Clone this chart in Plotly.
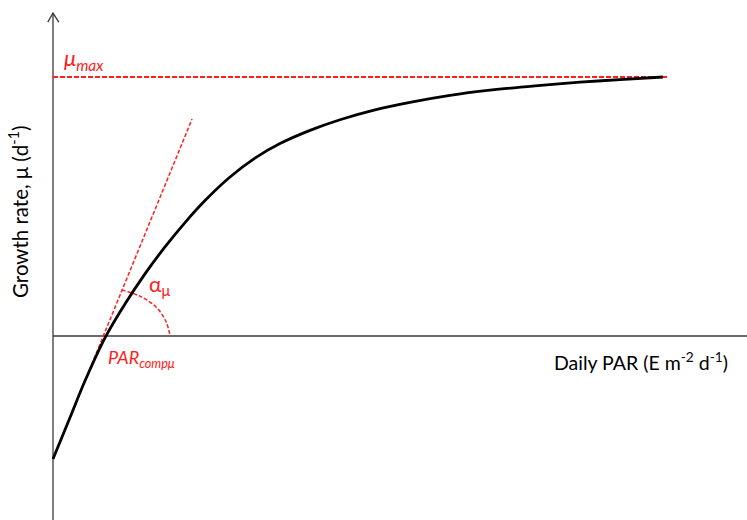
import plotly.graph_objects as go

# Growth-rate response curve (daily PAR vs growth rate)
par = [0.000, 0.279, 0.525, 0.852, 1.180, 1.508, 1.836, 2.164, 2.492, 2.902,
       3.311, 3.721, 4.213, 4.705, 5.279, 5.852, 6.508, 7.164, 7.902, 8.639,
       9.295, 10.000]
mu = [-0.475, -0.315, -0.173, -0.007, 0.124, 0.240, 0.344, 0.438, 0.523, 0.614,
      0.687, 0.743, 0.794, 0.835, 0.873, 0.902, 0.929, 0.949, 0.966, 0.980,
      0.990, 1.000]

# maximum growth rate line
mumax_x = [0.0, 10.08]
mumax_y = [1.0, 1.0]

# initial slope (alpha) tangent line
tan_x = [0.00, 2.28]
tan_y = [-0.475, 0.838]

# angle arc marking alpha
arc_x = [1.12, 1.44, 1.69, 1.85, 1.92]
arc_y = [0.178, 0.152, 0.112, 0.057, 0.000]

X_RANGE = [-0.8689, 11.377]
Y_RANGE = [-0.7104, 1.2973]
Y_TOP = 1.247

RED = "#ff2020"
AXIS = "#3a3a3a"
FONT = "Lato, Carlito, 'Open Sans', sans-serif"

fig = go.Figure()
fig.add_trace(go.Scatter(x=mumax_x, y=mumax_y, mode="lines",
                         line=dict(color=RED, width=1.8, dash="5px,2px"), hoverinfo="skip"))
fig.add_trace(go.Scatter(x=tan_x, y=tan_y, mode="lines",
                         line=dict(color=RED, width=1.5, dash="4px,2px"), hoverinfo="skip"))
fig.add_trace(go.Scatter(x=arc_x, y=arc_y, mode="lines", line_shape="spline",
                         line=dict(color=RED, width=1.5, dash="4px,2px"), hoverinfo="skip"))
fig.add_trace(go.Scatter(x=par, y=mu, mode="lines",
                         line=dict(color="black", width=2.8, shape="spline", smoothing=1.0),
                         hoverinfo="skip"))

shapes = [
    dict(type="line", xref="x", yref="y", x0=0, x1=0, y0=Y_RANGE[0], y1=Y_TOP,
         line=dict(color=AXIS, width=1.3), layer="below"),
    dict(type="line", xref="x", yref="y", x0=0, x1=X_RANGE[1], y0=0, y1=0,
         line=dict(color=AXIS, width=1.3), layer="below"),
    dict(type="path", xref="x", yref="y",
         path=f"M -0.085 1.212 L 0 {Y_TOP} L 0.095 1.212",
         line=dict(color=AXIS, width=1.3)),
]

annotations = [
    dict(x=0.148, y=1.069, xref="x", yref="y", xanchor="left", yanchor="middle",
         text="<i>μ<sub>max</sub></i>", showarrow=False,
         font=dict(family=FONT, size=22, color=RED)),
    dict(x=1.541, y=0.197, xref="x", yref="y", xanchor="left", yanchor="middle",
         text="α<sub>μ</sub>", showarrow=False,
         font=dict(family=FONT, size=21, color=RED)),
    dict(x=0.869, y=-0.087, xref="x", yref="y", xanchor="left", yanchor="middle",
         text="<i>PAR<sub>compμ</sub></i>", showarrow=False,
         font=dict(family=FONT, size=18, color=RED)),
    dict(x=9.64, y=-0.100, xref="x", yref="y", xanchor="center", yanchor="middle",
         text="Daily PAR (E m<sup>-2</sup> d<sup>-1</sup>)", showarrow=False,
         font=dict(family=FONT, size=19.5, color="black")),
    dict(x=-0.557, y=0.479, xref="x", yref="y", xanchor="center", yanchor="middle",
         text="Growth rate, μ (d<sup>-1</sup>)", showarrow=False, textangle=-90,
         font=dict(family=FONT, size=20.5, color="black")),
]

fig.update_layout(
    width=747, height=520,
    margin=dict(l=0, r=0, t=0, b=0),
    paper_bgcolor="white", plot_bgcolor="white",
    showlegend=False,
    xaxis=dict(range=X_RANGE, visible=False, fixedrange=True),
    yaxis=dict(range=Y_RANGE, visible=False, fixedrange=True),
    shapes=shapes, annotations=annotations,
)

fig.write_html("out.html", config={"displayModeBar": False},
               post_script="document.body.style.margin='0px';document.body.style.overflow='hidden';")
